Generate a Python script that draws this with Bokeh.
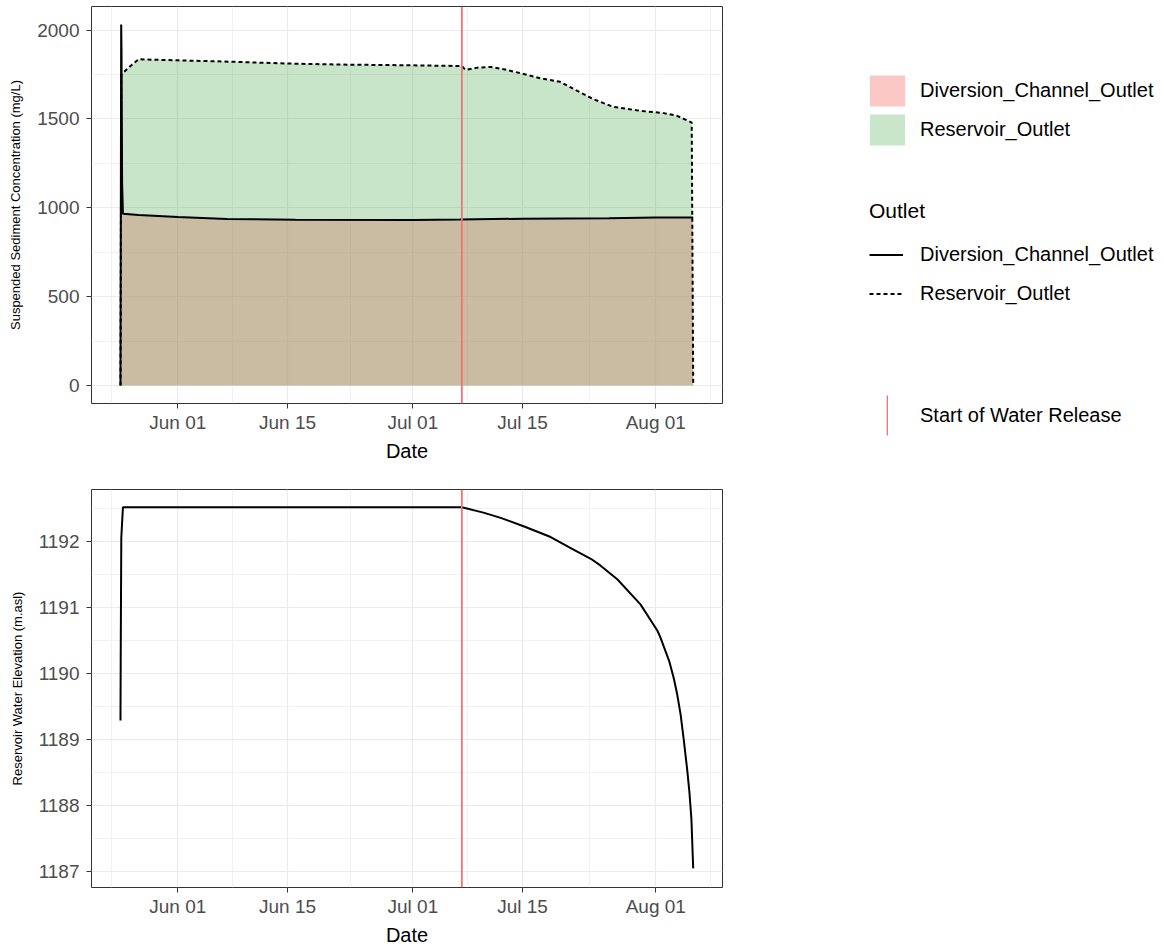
import pandas as pd
from bokeh.plotting import figure
from bokeh.models import (Range1d, FixedTicker, DatetimeTickFormatter, Span,
                          Legend, LegendItem)
from bokeh.layouts import row, column
from bokeh.embed import file_html
from bokeh.resources import INLINE

# ---------------- data ----------------
res_times = ["2021-05-24 16:30", "2021-05-24 19:00", "2021-05-25 02:00", "2021-05-26 00:00",
             "2021-05-27 00:00", "2021-06-01 00:00", "2021-06-08 00:00", "2021-06-15 00:00",
             "2021-06-22 00:00", "2021-07-01 00:00", "2021-07-07 06:00", "2021-07-07 17:00",
             "2021-07-09 05:00", "2021-07-10 22:00", "2021-07-12 14:00", "2021-07-15 00:00",
             "2021-07-17 07:00", "2021-07-19 19:00", "2021-07-22 10:00", "2021-07-24 02:00",
             "2021-07-26 14:00", "2021-07-30 00:00", "2021-08-02 00:00", "2021-08-03 17:00",
             "2021-08-05 14:00", "2021-08-05 18:30"]
res_ssc = [0, 1750, 1762, 1800, 1836, 1830, 1822, 1812, 1806, 1802, 1798, 1776,
           1789, 1793, 1780, 1755, 1729, 1709, 1648, 1611, 1568, 1546, 1533, 1518,
           1480, 15]

div_times = ["2021-05-24 16:30", "2021-05-24 18:40", "2021-05-24 19:40", "2021-05-24 21:30",
             "2021-05-25 00:00", "2021-05-27 00:00", "2021-06-01 00:00", "2021-06-07 07:00",
             "2021-06-16 00:00", "2021-07-01 00:00", "2021-07-07 00:00", "2021-07-15 00:00",
             "2021-07-26 00:00", "2021-08-01 00:00", "2021-08-05 18:30"]
div_ssc = [0, 2032, 1880, 1140, 967, 960, 948, 937, 933, 931, 934, 939, 942, 946, 946]

elev_times = ["2021-05-24 16:30", "2021-05-24 17:15", "2021-05-24 19:00", "2021-05-25 00:00",
              "2021-07-07 06:00", "2021-07-10 00:00", "2021-07-12 05:00", "2021-07-15 05:00",
              "2021-07-18 14:00", "2021-07-21 12:00", "2021-07-23 17:00", "2021-07-24 22:00",
              "2021-07-27 02:00", "2021-07-30 01:00", "2021-08-01 05:00", "2021-08-01 14:00",
              "2021-08-02 17:00", "2021-08-03 07:00", "2021-08-03 17:00", "2021-08-04 04:00",
              "2021-08-04 14:00", "2021-08-05 00:00", "2021-08-05 07:00", "2021-08-05 13:00",
              "2021-08-05 18:30"]
elev_m = [1189.29, 1190.27, 1192.06, 1192.52, 1192.52, 1192.44, 1192.36, 1192.23,
          1192.07, 1191.88, 1191.74, 1191.64, 1191.43, 1191.05, 1190.65, 1190.55,
          1190.19, 1189.93, 1189.70, 1189.38, 1188.98, 1188.55, 1188.20, 1187.80,
          1187.05]

release_time = "2021-07-07 06:00"

x_major_dates = ["2021-06-01 00:00", "2021-06-15 00:00", "2021-07-01 00:00",
                 "2021-07-15 00:00", "2021-08-01 00:00"]
x_minor_dates = ["2021-05-23 12:00", "2021-06-08 00:00", "2021-06-23 00:00", "2021-07-08 00:00",
                 "2021-07-23 12:00", "2021-08-08 00:00"]
x_limits = ["2021-05-20 23:45", "2021-08-09 12:15"]

ssc_ticks = [0, 500, 1000, 1500, 2000]
ssc_minor = [250, 750, 1250, 1750]
ssc_limits = [-101, 2133]
elev_ticks = [1187, 1188, 1189, 1190, 1191, 1192]
elev_minor = [1187.5, 1188.5, 1189.5, 1190.5, 1191.5, 1192.5]
elev_limits = [1186.76, 1192.79]

series_names = ["Diversion_Channel_Outlet", "Reservoir_Outlet"]
release_label = "Start of Water Release"


def ms(values):
    idx = pd.to_datetime(values, format="ISO8601")
    return [float(v) for v in (idx - pd.Timestamp("1970-01-01")) // pd.Timedelta(milliseconds=1)]


FONT = "Liberation Sans"
GRID = "#EBEBEB"
DARK = "#333333"
RED = "#F07470"

res_x = ms(res_times)
div_x = ms(div_times)
elev_x = ms(elev_times)
rel_x = ms([release_time])[0]

x_range = Range1d(*ms(x_limits))
x_ticker = FixedTicker(ticks=ms(x_major_dates), minor_ticks=ms(x_minor_dates))
fmt = "%b %d"
x_formatter = DatetimeTickFormatter(milliseconds=fmt, seconds=fmt, minsec=fmt, minutes=fmt,
                                    hourmin=fmt, hours=fmt, days=fmt, months=fmt, years=fmt)


def make_fig(ylabel, yticks, yminor, ylim, top_border, frame_h, bottom_border):
    p = figure(x_axis_type="datetime", x_range=x_range, y_range=Range1d(*ylim),
               frame_width=631, frame_height=frame_h, min_border_left=91, min_border_right=16,
               min_border_top=top_border, min_border_bottom=bottom_border,
               toolbar_location=None, output_backend="svg")
    p.outline_line_color = DARK
    p.outline_line_width = 1
    p.background_fill_color = "white"
    p.border_fill_color = "white"
    yt = FixedTicker(ticks=yticks, minor_ticks=yminor)
    p.yaxis.ticker = yt
    p.ygrid.ticker = yt
    p.xaxis.ticker = x_ticker
    p.xgrid.ticker = x_ticker
    p.xaxis.formatter = x_formatter
    for g in (p.xgrid[0], p.ygrid[0]):
        g.grid_line_color = GRID
        g.grid_line_width = 1.2
        g.minor_grid_line_color = GRID
        g.minor_grid_line_width = 0.7
    for ax in (p.xaxis[0], p.yaxis[0]):
        ax.axis_line_color = None
        ax.major_tick_line_color = DARK
        ax.major_tick_line_width = 1
        ax.major_tick_in = 0
        ax.major_tick_out = 5
        ax.minor_tick_line_color = None
        ax.major_label_text_font = FONT
        ax.major_label_text_font_size = "19px"
        ax.major_label_text_color = "#4D4D4D"
        ax.axis_label_text_font = FONT
        ax.axis_label_text_font_style = "normal"
        ax.axis_label_text_color = "black"
    p.yaxis.major_label_standoff = 7
    p.yaxis.axis_label = ylabel
    p.yaxis.axis_label_text_font_size = "13px"
    p.yaxis.axis_label_standoff = 11
    p.xaxis.major_label_standoff = 3
    p.xaxis.axis_label = "Date"
    p.xaxis.axis_label_text_font_size = "20px"
    p.xaxis.axis_label_standoff = 4
    p.add_layout(Span(location=rel_x, dimension="height", line_color=RED, line_width=1.8))
    return p


# ---------------- top: suspended sediment concentration ----------------
p1 = make_fig("Suspended Sediment Concentration (mg/L)", ssc_ticks, ssc_minor, ssc_limits,
              6, 397, 66)
p1.varea(x=res_x, y1=0, y2=res_ssc, fill_color="#4BA84B", fill_alpha=0.3)
p1.varea(x=div_x, y1=0, y2=div_ssc, fill_color="#CE7F68", fill_alpha=0.4)
p1.line(div_x, div_ssc, line_color="black", line_width=2)
p1.line(res_x, res_ssc, line_color="black", line_width=2, line_dash="4 3")

# ---------------- bottom: reservoir water elevation ----------------
p2 = make_fig("Reservoir Water Elevation (m.asl)", elev_ticks, elev_minor, elev_limits,
              20, 398, 0)
p2.line(elev_x, elev_m, line_color="black", line_width=2)

# ---------------- legend panel ----------------
LW, LH = 424, 469
pl = figure(width=LW, height=LH, x_axis_type=None, y_axis_type=None, x_range=(0, 1),
            y_range=(0, 1), min_border=0, toolbar_location=None, output_backend="svg")
pl.outline_line_color = None
pl.background_fill_color = "white"
pl.border_fill_color = "white"

# legend-key renderers: their data lie outside the (invisible) panel range
f_div = pl.varea(x=[5, 6], y1=[5, 5], y2=[6, 6], fill_color="#FBC8C5", fill_alpha=1)
f_res = pl.varea(x=[5, 6], y1=[5, 5], y2=[6, 6], fill_color="#C9E6CA", fill_alpha=1)
l_div = pl.line(x=[5, 6], y=[5, 5], line_color="black", line_width=2)
l_res = pl.line(x=[5, 6], y=[5, 5], line_color="black", line_width=2, line_dash="4 3")
# narrow filled bar -> drawn as a vertical red stroke in the legend key
v_rel = pl.quad(left=[5], right=[6], bottom=[5], top=[6], fill_color=RED, fill_alpha=1,
                line_color=None)


def style_legend(lg):
    lg.padding = 0
    lg.margin = 0
    lg.border_line_color = None
    lg.background_fill_alpha = 0
    lg.label_text_font = FONT
    lg.label_text_font_size = "20px"
    lg.label_text_color = "black"
    lg.title_text_font = FONT
    lg.title_text_font_size = "21px"
    lg.title_text_font_style = "normal"
    lg.title_text_color = "black"


leg_fill = Legend(items=[LegendItem(label=series_names[0], renderers=[f_div]),
                         LegendItem(label=series_names[1], renderers=[f_res])],
                  location=(127, 320), glyph_width=44, glyph_height=39, spacing=0,
                  label_standoff=11)
style_legend(leg_fill)

leg_line = Legend(items=[LegendItem(label=series_names[0], renderers=[l_div]),
                         LegendItem(label=series_names[1], renderers=[l_res])],
                  title="Outlet", location=(131, 156), glyph_width=34, glyph_height=39,
                  spacing=0, label_standoff=17, title_standoff=12)
style_legend(leg_line)

leg_rel = Legend(items=[LegendItem(label=release_label, renderers=[v_rel])],
                 location=(148, 29), glyph_width=2, glyph_height=50, spacing=0,
                 label_standoff=32)
style_legend(leg_rel)

for lg in (leg_fill, leg_line, leg_rel):
    pl.add_layout(lg)

layout = row(column(p1, p2), pl)
open("out.html", "w").write(file_html(layout, INLINE))
